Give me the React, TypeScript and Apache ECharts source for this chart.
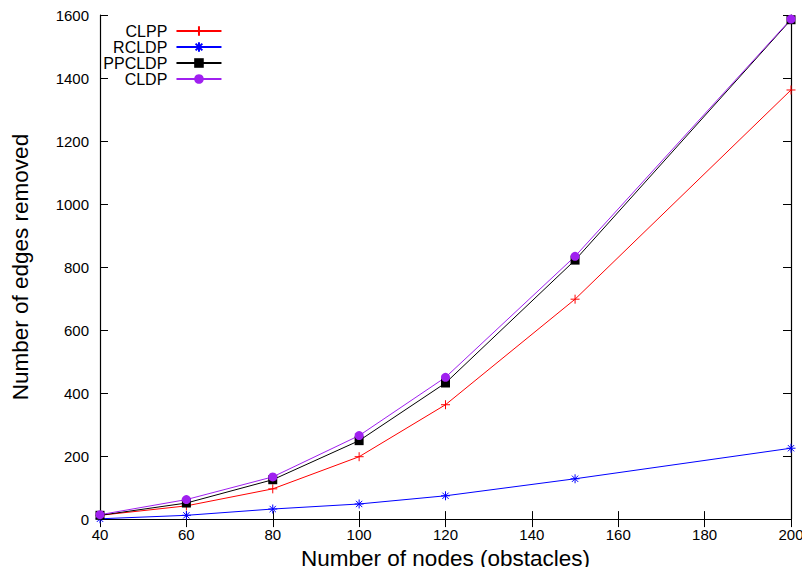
import React, { useEffect, useRef } from "react";
import * as echarts from "echarts";

const nodes = [40, 60, 80, 100, 120, 150, 200];
const clpp = [12, 42, 96, 198, 363, 698, 1362];
const rcldp = [1, 12, 32, 48, 74, 128, 225];
const ppcldp = [12, 51, 125, 249, 432, 822, 1585];
const cldp = [14, 62, 134, 265, 450, 834, 1587];

const FONT = "'Liberation Sans', Arial, Helvetica, sans-serif";
const PLUS = "path://M0,5L10,5M5,0L5,10";
const STAR = "path://M0,5L10,5M5,0L5,10M1.5,1.5L8.5,8.5M1.5,8.5L8.5,1.5";

const pairs = (ys: number[]) => nodes.map((x, i) => [x, ys[i]]);

export default function App() {
  const ref = useRef<HTMLDivElement>(null);
  useEffect(() => {
    const chart = echarts.init(ref.current!, null, { renderer: "svg" });
    const mk = (name: string, ys: number[], color: string, symbol: string, size: number) => ({
      name,
      type: "line",
      data: pairs(ys),
      symbol,
      symbolSize: size,
      showAllSymbol: true,
      lineStyle: { color, width: 1 },
      itemStyle: { color, borderColor: color, borderWidth: symbol.startsWith("path") ? 1 : 0 },
      emphasis: { disabled: true },
    });
    const tick = { show: true, inside: true, length: 8, lineStyle: { color: "#000" } };
    const line = { show: true, lineStyle: { color: "#000", width: 1.2 } };
    chart.setOption({
      animation: false,
      textStyle: { fontFamily: FONT },
      grid: { left: 100, right: 19, top: 15, bottom: 55, show: false },
      legend: {
        orient: "vertical",
        align: "right",
        left: 98,
        top: 18,
        itemWidth: 45,
        itemHeight: 12,
        itemGap: 0,
        selectedMode: false,
        formatter: (n: string) => n + " ",
        textStyle: { fontSize: 16, color: "#000", fontFamily: FONT, lineHeight: 16 },
        data: ["CLPP", "RCLDP", "PPCLDP", "CLDP"],
      },
      xAxis: [
        {
          type: "value",
          min: 40,
          max: 200,
          interval: 20,
          name: "Number of nodes (obstacles)",
          nameLocation: "middle",
          nameGap: 26,
          nameTextStyle: { fontSize: 22.5, color: "#000", fontFamily: FONT },
          axisLine: line,
          axisTick: tick,
          axisLabel: { fontSize: 15, color: "#000", margin: 8, fontFamily: FONT, formatter: (v: number) => String(v) },
          splitLine: { show: false },
        },
        {
          type: "value",
          position: "top",
          min: 40,
          max: 200,
          interval: 20,
          axisLine: line,
          axisTick: tick,
          axisLabel: { show: false },
          splitLine: { show: false },
        },
      ],
      yAxis: [
        {
          type: "value",
          min: 0,
          max: 1600,
          interval: 200,
          name: "Number of edges removed",
          nameLocation: "middle",
          nameGap: 68,
          nameTextStyle: { fontSize: 22.5, color: "#000", fontFamily: FONT },
          axisLine: line,
          axisTick: tick,
          axisLabel: { fontSize: 15, color: "#000", margin: 11, fontFamily: FONT, formatter: (v: number) => String(v) },
          splitLine: { show: false },
        },
        {
          type: "value",
          position: "right",
          min: 0,
          max: 1600,
          interval: 200,
          axisLine: line,
          axisTick: tick,
          axisLabel: { show: false },
          splitLine: { show: false },
        },
      ],
      series: [
        mk("CLPP", clpp, "#ff0000", PLUS, 9),
        mk("RCLDP", rcldp, "#0000ff", STAR, 9),
        mk("PPCLDP", ppcldp, "#000000", "rect", 9),
        mk("CLDP", cldp, "#a020f0", "circle", 9),
      ],
    });
    return () => chart.dispose();
  }, []);
  return <div ref={ref} style={{ width: 810, height: 575, margin: -8 }} />;
}
